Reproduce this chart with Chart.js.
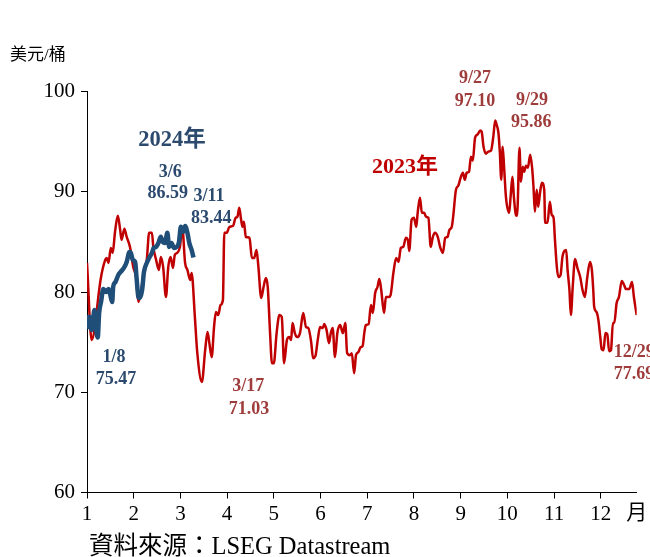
<!DOCTYPE html>
<html>
<head>
<meta charset="utf-8">
<script src="https://cdn.jsdelivr.net/npm/chart.js@4.4.1/dist/chart.umd.min.js"></script>
<style>
  html, body { margin: 0; padding: 0; background: #fff; }
  canvas { display: block; }
</style>
</head>
<body>
<canvas id="c" width="650" height="557"></canvas>
<script>
// x positions are in months (1 = start of January); values in US$/barrel
const monthTicks = [1, 2, 3, 4, 5, 6, 7, 8, 9, 10, 11, 12];

const x2023 = [1.00,1.10,1.17,1.21,1.29,1.39,1.42,1.46,1.51,1.55,1.60,1.66,1.71,1.74,1.80,1.85,1.92,1.99,2.05,2.10,
  2.15,2.22,2.28,2.33,2.39,2.42,2.48,2.54,2.58,2.63,2.69,2.74,2.79,2.84,2.88,2.93,2.99,3.04,3.10,3.15,
  3.21,3.24,3.31,3.36,3.46,3.53,3.58,3.62,3.67,3.72,3.76,3.81,3.86,3.91,3.94,3.99,4.05,4.13,4.18,4.22,
  4.26,4.30,4.33,4.36,4.40,4.48,4.53,4.58,4.63,4.67,4.73,4.78,4.83,4.87,4.92,4.96,5.00,5.06,5.12,5.17,
  5.22,5.28,5.33,5.37,5.40,5.45,5.50,5.56,5.63,5.69,5.74,5.80,5.84,5.89,5.94,5.99,6.05,6.08,6.13,6.18,
  6.22,6.26,6.31,6.36,6.42,6.48,6.53,6.57,6.63,6.67,6.72,6.76,6.81,6.86,6.90,6.94,6.97,7.03,7.08,7.12,
  7.17,7.22,7.26,7.30,7.36,7.40,7.46,7.50,7.56,7.62,7.67,7.72,7.77,7.83,7.87,7.90,7.95,8.00,8.05,8.08,
  8.13,8.17,8.22,8.26,8.31,8.36,8.40,8.45,8.51,8.56,8.62,8.67,8.72,8.76,8.81,8.84,8.90,8.95,9.00,9.05,
  9.09,9.13,9.18,9.22,9.26,9.31,9.36,9.42,9.45,9.49,9.54,9.59,9.65,9.70,9.74,9.77,9.81,9.84,9.87,9.90,
  9.93,9.97,10.04,10.07,10.11,10.14,10.19,10.22,10.26,10.29,10.33,10.36,10.40,10.44,10.49,10.53,10.56,10.59,10.63,10.66,
  10.70,10.74,10.79,10.81,10.86,10.91,10.95,10.99,11.02,11.06,11.09,11.14,11.18,11.22,11.26,11.29,11.33,11.36,11.40,11.45,
  11.50,11.56,11.61,11.66,11.71,11.77,11.81,11.84,11.86,11.91,11.95,11.99,12.02,12.06,12.10,12.14,12.18,12.22,12.26,12.29,
  12.34,12.39,12.45,12.50,12.54,12.61,12.67,12.71,12.77];

const brent2023 = [82.9,75.2,76.5,78.2,81.2,83.2,83.4,82.9,84.4,83.9,86.0,87.6,86.2,85.2,86.3,85.5,84.5,82.5,81.5,79.0,
  79.9,81.9,83.2,85.9,85.9,84.5,83.2,82.2,83.5,82.5,79.5,82.5,83.5,82.4,83.7,83.9,84.5,86.5,82.9,82.2,
  81.2,81.9,77.5,74.0,71.03,74.2,76.0,74.9,73.5,76.5,78.0,77.7,78.7,79.2,85.9,85.9,86.5,86.6,87.4,87.5,
  88.4,87.2,86.5,87.0,85.5,85.4,83.4,83.4,84.2,82.5,79.4,80.5,81.4,80.5,75.9,72.9,72.9,75.9,77.7,77.5,
  72.9,75.2,75.5,75.2,76.9,75.9,75.5,75.9,77.9,76.5,76.4,75.0,73.4,73.6,75.2,76.5,76.4,76.8,76.2,74.9,
  75.9,76.4,73.5,75.9,76.7,75.9,76.9,73.9,73.7,73.9,71.9,73.7,74.0,74.5,74.6,76.0,76.7,76.8,78.7,77.9,
  79.9,80.5,81.3,80.2,77.9,79.5,79.5,79.7,81.9,83.4,83.0,84.4,84.5,85.4,85.2,84.1,87.2,87.4,86.5,87.9,
  89.4,87.9,87.9,87.5,87.4,84.5,85.4,85.9,85.5,84.5,83.9,85.4,85.5,86.2,86.5,87.5,90.2,90.6,91.4,91.9,
  91.2,91.9,92.0,93.5,93.1,95.4,95.7,96.1,96.0,94.5,93.8,94.0,94.1,95.5,97.10,96.7,95.86,93.9,91.2,94.5,
  92.5,89.5,87.9,89.5,91.5,89.5,87.6,88.5,94.4,91.0,92.5,92.0,92.6,92.4,93.7,92.4,90.5,88.0,90.2,88.5,
  89.9,90.9,90.2,86.9,86.9,89.0,87.7,87.4,85.2,82.5,81.5,81.7,83.5,84.1,84.2,82.2,80.2,77.7,80.5,83.3,
  82.4,81.5,80.2,79.5,81.4,83.0,82.2,80.2,78.5,78.0,77.2,75.5,74.3,74.2,75.9,75.8,74.1,74.2,76.9,76.9,
  78.9,79.5,81.1,80.7,80.3,80.3,81.0,79.5,77.69];

const x2024 = [1.00,1.03,1.06,1.10,1.13,1.16,1.19,1.23,1.26,1.30,1.35,1.41,1.46,1.49,1.54,1.56,1.61,1.67,1.72,1.79,
  1.85,1.91,1.94,1.98,2.03,2.06,2.10,2.13,2.18,2.22,2.28,2.33,2.39,2.43,2.48,2.53,2.58,2.62,2.67,2.72,
  2.76,2.81,2.86,2.92,2.97,3.01,3.06,3.10,3.15,3.19,3.24,3.28];

const brent2024 = [77.7,76.5,77.5,76.2,77.2,78.2,76.5,75.47,77.9,79.0,80.3,80.0,80.3,79.9,79.0,80.5,81.0,81.7,82.0,82.4,
  83.0,84.0,83.9,83.2,83.0,81.5,79.5,79.4,80.2,82.0,82.9,83.4,83.9,84.4,84.5,84.9,85.5,85.0,84.9,85.9,
  84.5,84.9,84.4,84.5,85.0,86.5,86.0,86.59,85.9,84.9,84.2,83.44];

const seriesNames = ['2023年', '2024年'];
const unitLabel = '美元/桶';
const monthUnit = '月';
const sourceNote = '資料來源：LSEG Datastream';

const SERIF = "'Liberation Serif', 'Noto Sans CJK TC', serif";
const RED = '#c00000';
const BLUE = '#1f4e79';
const RED_TXT = '#9e3b3b';
const BLUE_TXT = '#2b4a6e';

// annotation texts placed at chart coordinates (month, value)
const notes = [
  { t: '2024年', x: 2.82, y: 95.15, c: BLUE_TXT, size: 22.5, align: 'center' },
  { t: '3/6',   x: 2.78, y: 91.95, c: BLUE_TXT, size: 18, align: 'center' },
  { t: '86.59', x: 2.73, y: 89.85, c: BLUE_TXT, size: 18, align: 'center' },
  { t: '3/11',  x: 3.61, y: 89.55, c: BLUE_TXT, size: 18, align: 'center' },
  { t: '83.44', x: 3.66, y: 87.35, c: BLUE_TXT, size: 18, align: 'center' },
  { t: '1/8',   x: 1.58, y: 73.5,  c: BLUE_TXT, size: 18, align: 'center' },
  { t: '75.47', x: 1.62, y: 71.3,  c: BLUE_TXT, size: 18, align: 'center' },
  { t: '2023年', x: 7.81, y: 92.45, c: RED, size: 22, align: 'center' },
  { t: '9/27',  x: 9.31, y: 101.35, c: RED_TXT, size: 18, align: 'center' },
  { t: '97.10', x: 9.31, y: 99.05,  c: RED_TXT, size: 18, align: 'center' },
  { t: '9/29',  x: 10.53, y: 99.15, c: RED_TXT, size: 18, align: 'center' },
  { t: '95.86', x: 10.51, y: 96.95, c: RED_TXT, size: 18, align: 'center' },
  { t: '3/17',  x: 4.45, y: 70.6,  c: RED_TXT, size: 18, align: 'center' },
  { t: '71.03', x: 4.47, y: 68.3,  c: RED_TXT, size: 18, align: 'center' },
  { t: '12/29', x: 12.28, y: 74.0, c: RED_TXT, size: 18, align: 'left' },
  { t: '77.69', x: 12.28, y: 71.8, c: RED_TXT, size: 18, align: 'left' }
];

const textPlugin = {
  id: 'texts',
  afterDraw(chart) {
    const ctx = chart.ctx;
    const xs = chart.scales.x, ys = chart.scales.y;
    ctx.save();
    ctx.textBaseline = 'middle';
    notes.forEach(n => {
      ctx.font = 'bold ' + n.size + 'px ' + SERIF;
      ctx.fillStyle = n.c;
      ctx.textAlign = n.align;
      ctx.fillText(n.t, xs.getPixelForValue(n.x), ys.getPixelForValue(n.y));
    });
    ctx.fillStyle = '#000';
    ctx.font = '17px ' + SERIF;
    ctx.textAlign = 'left';
    ctx.fillText(unitLabel, 10, 56);
    ctx.font = '21px ' + SERIF;
    ctx.textAlign = 'center';
    ctx.fillText(monthUnit, xs.right, 513);
    ctx.font = '24.5px ' + SERIF;
    ctx.textAlign = 'left';
    ctx.fillText(sourceNote, 89, 548);
    ctx.restore();
  }
};

const toPts = (xa, ya) => xa.map((v, i) => ({ x: v, y: ya[i] }));

new Chart(document.getElementById('c'), {
  type: 'line',
  data: {
    datasets: [
      {
        label: seriesNames[1],
        data: toPts(x2024, brent2024),
        borderColor: BLUE,
        borderWidth: 4.5,
        pointRadius: 0,
        cubicInterpolationMode: 'monotone',
        order: 0
      },
      {
        label: seriesNames[0],
        data: toPts(x2023, brent2023),
        borderColor: RED,
        borderWidth: 2.5,
        pointRadius: 0,
        cubicInterpolationMode: 'monotone',
        order: 1
      }
    ]
  },
  options: {
    responsive: false,
    animation: false,
    layout: { padding: { top: 91.5, right: 13.3, bottom: 0, left: 0 } },
    plugins: { legend: { display: false }, tooltip: { enabled: false } },
    scales: {
      x: {
        type: 'linear',
        min: 1,
        max: 12.77,
        afterBuildTicks: s => { s.ticks = monthTicks.map(v => ({ value: v })); },
        afterFit: s => { s.height = 64.5; },
        ticks: { color: '#000', font: { family: SERIF, size: 21 }, padding: 3, maxRotation: 0, autoSkip: false },
        grid: { display: true, drawOnChartArea: false, tickLength: 6, color: '#000' },
        border: { color: '#000', width: 1 }
      },
      y: {
        min: 60,
        max: 100,
        afterFit: s => { s.width = 87; },
        ticks: { stepSize: 10, color: '#000', font: { family: SERIF, size: 21 }, padding: 6 },
        grid: { display: true, drawOnChartArea: false, tickLength: 6, color: '#000' },
        border: { color: '#000', width: 1 }
      }
    }
  },
  plugins: [textPlugin]
});
</script>
</body>
</html>
